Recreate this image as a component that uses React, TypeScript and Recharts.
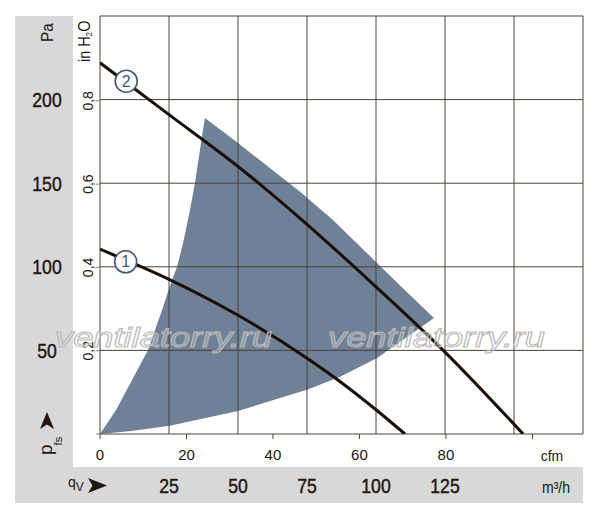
import React from 'react';
import {
  ComposedChart,
  Line,
  Scatter,
  XAxis,
  YAxis,
  ReferenceLine,
  ReferenceDot,
} from 'recharts';

// ---------- axis ticks ----------
const M3H_TICKS = [0, 25, 50, 75, 100, 125, 150, 175];
const M3H_LABELS = [25, 50, 75, 100, 125];
const CFM_TICKS = [0, 20, 40, 60, 80, 100];
const CFM_LABELS = [0, 20, 40, 60, 80];
const PA_TICKS = [0, 50, 100, 150, 200, 250];
const PA_LABELS = [50, 100, 150, 200];
const INH2O_TICKS = [0, 0.2, 0.4, 0.6, 0.8];
const INH2O_LABELS = [0.2, 0.4, 0.6, 0.8];

// ---------- characteristic curves (q in m³/h, p in Pa) ----------
const curve1Q = [0, 25, 50, 75, 86.2, 100, 110.5];
const curve1P = [110.5, 92.5, 71, 45.3, 32.3, 14.5, 0];
const curve2Q = [0, 25, 50, 72.5, 100, 125, 153.3];
const curve2P = [222, 191, 160, 129, 88, 49, 0];

// ---------- operating range outline (traced round the shaded area) ----------
const rangeQ = [0, 5.8, 12.2, 17.4, 22.5, 25.7, 27.9, 30.1, 32.6, 34.4, 36.6, 38,
  50, 72.5, 84.4, 100, 110.5, 121,
  100.4, 87, 75, 50, 25.3, 11.3, 0];
const rangeP = [0, 14.4, 34.1, 50.2, 74.2, 90.3, 99.9, 114.2, 134, 150.1, 174, 189,
  174, 144.9, 128, 102.9, 86.0, 69.4,
  45.5, 34.3, 26.5, 13.8, 5.0, 1.8, 0];

// ---------- curve number markers ----------
const markerIds = ['1', '2'];
const markerQ = [9.3, 9.5];
const markerP = [103, 211];

const CFM_MAX = 111.7;
const PA_PER_INH2O = 249.09;

const curve1 = curve1Q.map((q, i) => ({ q, p: curve1P[i] }));
const curve2 = curve2Q.map((q, i) => ({ q, p: curve2P[i] }));
const range = rangeQ.map((q, i) => ({ q, p: rangeP[i] }));
const cfmRef = CFM_TICKS.map((c) => ({ c, p: 0 }));

const FONT = "'Liberation Sans',Arial,sans-serif";
const INK = '#22170f';
const GRID = '#4b4238';
const FILL = '#6e8196';
const CURVE = '#1b0e05';
const MARK = '#41597a';
const PANEL = '#d8d8d8';
const NARROW = 0.84;

const comma = (v: number) => String(v).replace('.', ',');

function PaTick({ x, y, payload }: any) {
  if (!PA_LABELS.includes(payload.value)) return <g />;
  return (
    <text transform={`translate(${x - 27} ${y + 7.5}) scale(${NARROW} 1)`} textAnchor="middle" fontFamily={FONT} fontSize={21}
      fill={INK} stroke={INK} strokeWidth={0.45}>
      {payload.value}
    </text>
  );
}

function InTick({ x, y, payload }: any) {
  if (!INH2O_LABELS.includes(payload.value)) return <g />;
  const tx = x - 3;
  return (
    <text x={tx} y={y} transform={`rotate(-90 ${tx} ${y})`} textAnchor="middle" fontFamily={FONT} fontSize={14} fill={INK}>
      {comma(payload.value)}
    </text>
  );
}

function CfmTick({ x, y, payload }: any) {
  if (!CFM_LABELS.includes(payload.value)) return <g />;
  return (
    <text x={x} y={y + 19} textAnchor="middle" fontFamily={FONT} fontSize={15} fill={INK}>
      {payload.value}
    </text>
  );
}

function M3Tick({ x, y, payload }: any) {
  if (!M3H_LABELS.includes(payload.value)) return <g />;
  return (
    <text transform={`translate(${x} ${y + 26}) scale(${NARROW} 1)`} textAnchor="middle" fontFamily={FONT} fontSize={21}
      fill={INK} stroke={INK} strokeWidth={0.45}>
      {payload.value}
    </text>
  );
}

export default function App() {
  return (
    <div style={{ position: 'absolute', left: 0, top: 0, width: 600, height: 521, background: '#fff' }}>
      <div style={{ position: 'absolute', left: 15, top: 16, width: 58, height: 487, background: PANEL }} />
      <div style={{ position: 'absolute', left: 15, top: 467, width: 568, height: 36, background: PANEL }} />
      <div style={{ position: 'absolute', left: 0, top: 0 }}>
        <ComposedChart width={600} height={521} margin={{ top: 16, right: 17, bottom: 0, left: 0 }}>
          <XAxis
            xAxisId="cfm"
            dataKey="c"
            type="number"
            domain={[0, CFM_MAX]}
            ticks={CFM_TICKS}
            interval={0}
            allowDataOverflow
            height={33}
            axisLine={false}
            tickSize={5}
            tickMargin={2}
            tickLine={{ stroke: GRID, strokeWidth: 1 }}
            tick={<CfmTick />}
          />
          <XAxis
            xAxisId="m3"
            dataKey="q"
            type="number"
            domain={[0, 175]}
            ticks={M3H_TICKS}
            interval={0}
            allowDataOverflow
            height={54}
            axisLine={false}
            tickLine={false}
            tickSize={0}
            tickMargin={0}
            tick={<M3Tick />}
          />
          <YAxis
            yAxisId="in"
            type="number"
            domain={[0, 250 / PA_PER_INH2O]}
            ticks={INH2O_TICKS}
            interval={0}
            allowDataOverflow
            width={26}
            axisLine={false}
            tickSize={4}
            tickMargin={0}
            tickLine={{ stroke: '#8a8278', strokeWidth: 1 }}
            tick={<InTick />}
          />
          <YAxis
            yAxisId="pa"
            dataKey="p"
            type="number"
            domain={[0, 250]}
            ticks={PA_TICKS}
            interval={0}
            allowDataOverflow
            width={74}
            axisLine={false}
            tickLine={false}
            tickSize={0}
            tickMargin={0}
            tick={<PaTick />}
          />

          <Scatter
            data={range}
            xAxisId="m3"
            yAxisId="pa"
            dataKey="p"
            isAnimationActive={false}
            zIndex={50}
            line={{ fill: FILL, stroke: 'none' }}
            lineType="joint"
            shape={() => <g />}
          />
          {/* anchors the cfm scale (no visible marks) */}
          <Scatter
            data={cfmRef}
            xAxisId="cfm"
            yAxisId="pa"
            dataKey="p"
            isAnimationActive={false}
            shape={() => <g />}
          />

          {M3H_TICKS.map((v) => (
            <ReferenceLine key={'vx' + v} x={v} xAxisId="m3" yAxisId="pa" stroke={GRID} strokeWidth={1} zIndex={150} />
          ))}
          {PA_TICKS.map((v) => (
            <ReferenceLine key={'hy' + v} y={v} xAxisId="m3" yAxisId="pa" stroke={GRID} strokeWidth={1} zIndex={150} />
          ))}

          <Line
            data={curve1}
            xAxisId="m3"
            yAxisId="pa"
            dataKey="p"
            type="monotone"
            stroke={CURVE}
            strokeWidth={3}
            dot={false}
            isAnimationActive={false}
            zIndex={400}
          />
          <Line
            data={curve2}
            xAxisId="m3"
            yAxisId="pa"
            dataKey="p"
            type="monotone"
            stroke={CURVE}
            strokeWidth={3}
            dot={false}
            isAnimationActive={false}
            zIndex={400}
          />

          {markerIds.map((id, i) => (
            <ReferenceDot
              key={'m' + id}
              x={markerQ[i]}
              y={markerP[i]}
              xAxisId="m3"
              yAxisId="pa"
              r={11}
              fill="#ffffff"
              stroke={MARK}
              strokeWidth={1.6}
              zIndex={1000}
              label={{ value: id, position: 'center', fill: MARK, fontSize: 16, fontFamily: FONT }}
            />
          ))}
        </ComposedChart>
      </div>

      <svg width={600} height={521} style={{ position: 'absolute', left: 0, top: 0, pointerEvents: 'none' }}>
        {/* axis titles */}
        <text transform="translate(53 42) rotate(-90) scale(0.9 1)" fontFamily={FONT} fontSize={17} fill={INK}>Pa</text>
        <text transform="translate(90 62) rotate(-90) scale(0.9 1)" fontFamily={FONT} fontSize={16} fill={INK}>
          in H<tspan fontSize={9} dy={2}>2</tspan><tspan dy={-2}>O</tspan>
        </text>
        <text x={52} y={455} transform="rotate(-90 52 455)" fontFamily={FONT} fontSize={19} fill={INK}>
          p<tspan fontSize={11} dy={10} dx={-1}>fs</tspan>
        </text>
        <path d="M47 412 L54 429 L47 424.5 L40 429 Z" fill={INK} />
        <text x={68} y={487} fontFamily={FONT} fontSize={14} fill={INK}>
          q<tspan fontSize={12} dy={4}>V</tspan>
        </text>
        <path d="M107 485.5 L88 478 L92.5 485.5 L88 493 Z" fill={INK} />
        <text x={552} y={461} textAnchor="middle" fontFamily={FONT} fontSize={14} fill={INK}>cfm</text>
        <text transform="translate(556 493) scale(0.88 1)" textAnchor="middle" fontFamily={FONT} fontSize={16} fill={INK}>m³/h</text>
        {/* watermark */}
        <text x={55} y={347} fontFamily={FONT} fontStyle="italic" fontSize={27} textLength={217} lengthAdjust="spacingAndGlyphs"
          fill="rgba(255,255,255,0.2)" stroke="#b9b9b9" strokeWidth={1}>ventilatorry.ru</text>
        <text x={328} y={347} fontFamily={FONT} fontStyle="italic" fontSize={27} textLength={217} lengthAdjust="spacingAndGlyphs"
          fill="rgba(255,255,255,0.2)" stroke="#b9b9b9" strokeWidth={1}>ventilatorry.ru</text>
      </svg>
    </div>
  );
}
